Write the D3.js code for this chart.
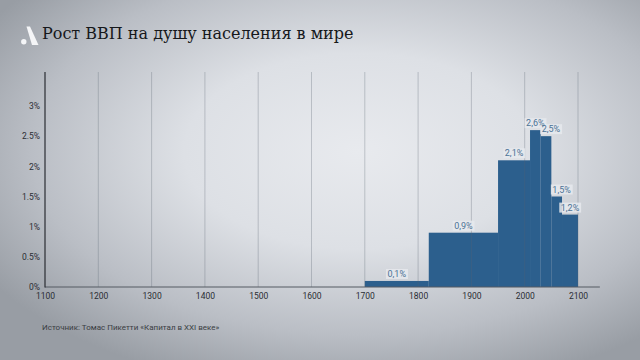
<!DOCTYPE html>
<html><head><meta charset="utf-8">
<script src="https://cdn.jsdelivr.net/npm/d3@7/dist/d3.min.js"></script>
<style>html,body{margin:0;padding:0;overflow:hidden;background:#c8ccd2}</style>
</head><body>
<script>
const periodStart = [1700, 1820, 1950, 2010, 2030, 2050, 2070];
const periodEnd   = [1820, 1950, 2010, 2030, 2050, 2070, 2100];
const growth      = [0.1, 0.9, 2.1, 2.6, 2.5, 1.5, 1.2];
const growthLabels = ["0,1%", "0,9%", "2,1%", "2,6%", "2,5%", "1,5%", "1,2%"];
const xTicks = [1100, 1200, 1300, 1400, 1500, 1600, 1700, 1800, 1900, 2000, 2100];
const yTicks = [0, 0.5, 1, 1.5, 2, 2.5, 3];
const yTickLabels = ["0%", "0.5%", "1%", "1.5%", "2%", "2.5%", "3%"];
const title = "Рост ВВП на душу населения в мире";
const source = "Источник: Томас Пикетти «Капитал в XXI веке»";

const W = 640, H = 360;
const svg = d3.select("body").append("svg").attr("width", W).attr("height", H);
const defs = svg.append("defs");
const rg = defs.append("radialGradient").attr("id", "bg")
  .attr("cx", "56%").attr("cy", "42%").attr("r", "68%");
rg.append("stop").attr("offset", "0%").attr("stop-color", "#e8eaee");
rg.append("stop").attr("offset", "40%").attr("stop-color", "#dde0e5");
rg.append("stop").attr("offset", "75%").attr("stop-color", "#babec5");
rg.append("stop").attr("offset", "100%").attr("stop-color", "#989da4");
svg.append("rect").attr("width", W).attr("height", H).attr("fill", "url(#bg)");

const x = d3.scaleLinear().domain([1100, 2100]).range([45, 578]);
const y = d3.scaleLinear().domain([0, 3]).range([287, 106]);
const plotTop = 72;

// Bars
const data = growth.map((v, i) => ({s: periodStart[i], e: periodEnd[i], v, l: growthLabels[i]}));
svg.append("g").selectAll("rect").data(data).join("rect")
  .attr("x", d => x(d.s)).attr("width", d => x(d.e) - x(d.s))
  .attr("y", d => y(d.v)).attr("height", d => y(0) - y(d.v))
  .attr("fill", "#2c5f8d");

// vertical gridlines (drawn over bars)
svg.append("g").selectAll("line").data(xTicks.slice(1)).join("line")
  .attr("x1", d => x(d)).attr("x2", d => x(d))
  .attr("y1", plotTop).attr("y2", y(0))
  .attr("stroke", "#5a6470").attr("stroke-opacity", 0.3).attr("stroke-width", 1);

// x axis
const xAxis = d3.axisBottom(x).tickValues(xTicks).tickSize(0).tickPadding(6).tickFormat(d3.format("d"));
const gx = svg.append("g").attr("transform", `translate(0,${y(0)})`).call(xAxis);
gx.select(".domain").remove();
gx.selectAll("text").attr("font-family", "Roboto, sans-serif").attr("font-size", 8.5).attr("fill", "#2a2d33");
svg.append("line").attr("x1", x(1100)).attr("x2", x(2141)).attr("y1", y(0)).attr("y2", y(0))
  .attr("stroke", "#555b63").attr("stroke-width", 1);

// y axis
const yAxis = d3.axisLeft(y).tickValues(yTicks).tickSize(0).tickPadding(5)
  .tickFormat((d, i) => yTickLabels[i]);
const gy = svg.append("g").attr("transform", `translate(${x(1100)},0)`).call(yAxis);
gy.select(".domain").remove();
gy.selectAll("text").attr("font-family", "Roboto, sans-serif").attr("font-size", 8.5).attr("fill", "#2a2d33");
svg.append("line").attr("x1", x(1100)).attr("x2", x(1100)).attr("y1", plotTop).attr("y2", y(0) + 0.5)
  .attr("stroke", "#2a2d33").attr("stroke-width", 1.2);

// bar labels
const lg = svg.append("g");
data.forEach((d, i) => {
  const w = x(d.e) - x(d.s);
  const narrowDecline = w < 14 && i > 0 && d.v < data[i - 1].v;
  const tx = narrowDecline ? x(d.s) + 1 : (x(d.s) + x(d.e)) / 2;
  const anchor = narrowDecline ? "start" : "middle";
  const t = lg.append("text").attr("x", tx).attr("y", y(d.v) - 4)
    .attr("text-anchor", anchor)
    .attr("font-family", "Roboto, sans-serif").attr("font-size", 9)
    .attr("fill", "#4d7396").text(d.l);
  const bb = t.node().getBBox();
  lg.insert("rect", "text").attr("x", bb.x - 1.5).attr("y", bb.y)
    .attr("width", bb.width + 3).attr("height", bb.height)
    .attr("fill", "#e6e9ed").attr("fill-opacity", 0.85);
});
lg.selectAll("text").raise();

// title
svg.append("text").attr("x", 42).attr("y", 38.5)
  .attr("font-family", "'DejaVu Serif', serif").attr("font-size", 16)
  .attr("fill", "#16181b").text(title);

// logo
const lgo = svg.append("g").attr("fill", "#f4f5f7");
lgo.append("path").attr("d", "M26.5,26.5 L30,26.5 L38.5,45 L32,45 Z");
lgo.append("circle").attr("cx", 23.8).attr("cy", 41.8).attr("r", 2.7);

// source
svg.append("text").attr("x", 42).attr("y", 329.5)
  .attr("font-family", "Roboto, sans-serif").attr("font-size", 8)
  .attr("fill", "#3a3d43").text(source);
</script>
</body></html>
